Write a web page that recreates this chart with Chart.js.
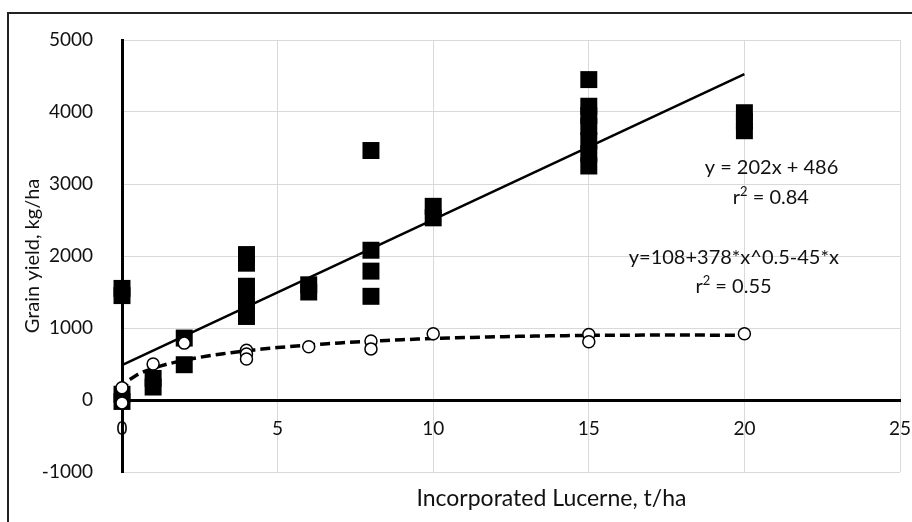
<!DOCTYPE html>
<html>
<head>
    <title>Grain yield and incorporated lucerne</title>
    <script src="https://cdn.jsdelivr.net/npm/chart.js"></script>
    <style>
        body { margin: 0; width: 912px; height: 522px; overflow: hidden; background: #fff; }
        .frame { position: absolute; left: 7px; top: 12px; width: 1000px; height: 1000px; border: 2px solid #222; pointer-events: none; }
        canvas { position: absolute; left: 0; top: 0; }
    </style>
</head>
<body>
    <div class="frame"></div>
    <canvas id="yieldChart" width="912" height="522"></canvas>

    <script>
        // Grain yield plots (filled squares)
        const squareRates = [0, 0, 0, 0, 1, 1, 2, 2, 4, 4, 4, 4, 4, 6, 6, 8, 8, 8, 8, 10, 10,
                             15, 15, 15, 15, 15, 15, 15, 20, 20, 20];
        const squareYields = [1550, 1450, 80, -20, 300, 180, 860, 490, 2020, 1900, 1580, 1370, 1160,
                              1600, 1500, 3465, 2080, 1790, 1440, 2690, 2530,
                              4450, 4080, 3950, 3800, 3600, 3420, 3250, 3990, 3870, 3740];

        // Grain yield plots (open circles)
        const circleRates = [0, 0, 1, 2, 4, 4, 4, 6, 8, 8, 10, 15, 15, 20];
        const circleYields = [170, -40, 500, 790, 690, 640, 570, 740, 820, 710, 920, 910, 810, 920];

        // Fitted trend lines, as printed next to the chart
        const linearFit = { slope: 202, intercept: 486 };
        const curveFit = { a: 108, b: 378, c: -45 };
        const fitRange = [0, 20];

        const xTicks = [0, 5, 10, 15, 20, 25];
        const yTicks = [-1000, 0, 1000, 2000, 3000, 4000, 5000];

        const xTitle = 'Incorporated Lucerne, t/ha';
        const yTitle = 'Grain yield, kg/ha';
        const labelLines = ['y = 202x + 486', 'r\u00b2 = 0.84', 'y=108+378*x^0.5-45*x', 'r\u00b2 = 0.55'];

        const toPoints = (xs, ys) => xs.map((x, i) => ({ x: x, y: ys[i] }));

        const linePoints = fitRange.map(x => ({ x: x, y: linearFit.slope * x + linearFit.intercept }));
        const curvePoints = [];
        for (let x = fitRange[0]; x <= fitRange[1]; x += 0.25) {
            curvePoints.push({ x: x, y: curveFit.a + curveFit.b * Math.sqrt(x) + curveFit.c * x });
        }

        const textColor = '#111';
        const family = 'Lato, sans-serif';

        // draws a line of text centred on (cx, cy); a '²' is set as a raised small 2
        function drawText(ctx, text, cx, cy, size) {
            const parts = text.split('\u00b2');
            const big = size + 'px ' + family;
            const small = Math.round(size * 0.65) + 'px ' + family;
            ctx.font = big;
            let total = parts.reduce((w, p) => w + ctx.measureText(p).width, 0);
            ctx.font = small;
            const supW = ctx.measureText('2').width;
            total += supW * (parts.length - 1);
            let x = cx - total / 2;
            parts.forEach((p, i) => {
                ctx.font = big;
                ctx.fillText(p, x, cy);
                x += ctx.measureText(p).width;
                if (i < parts.length - 1) {
                    ctx.font = small;
                    ctx.fillText('2', x, cy - size * 0.33);
                    x += supW;
                }
            });
        }

        // Equation text and the x axis caption, placed from the scales
        const chartText = {
            id: 'chartText',
            afterDatasetsDraw(chart) {
                const { ctx, chartArea, scales: { x, y } } = chart;
                const anchors = [[20.87, 3222], [20.85, 2806], [19.66, 1972], [19.65, 1569]];
                ctx.save();
                ctx.fillStyle = textColor;
                ctx.textAlign = 'left';
                ctx.textBaseline = 'middle';
                labelLines.forEach((t, i) => {
                    drawText(ctx, t, x.getPixelForValue(anchors[i][0]), y.getPixelForValue(anchors[i][1]), 20);
                });
                drawText(ctx, xTitle, x.getPixelForValue(13.8), chartArea.bottom + 27, 23);
                ctx.restore();
            }
        };

        const ctx = document.getElementById('yieldChart').getContext('2d');
        const chart = new Chart(ctx, {
            type: 'scatter',
            data: {
                datasets: [
                    {
                        label: 'Yield (squares)',
                        data: toPoints(squareRates, squareYields),
                        pointStyle: 'rect',
                        pointRadius: 12,
                        backgroundColor: '#000',
                        borderWidth: 0,
                        clip: false,
                        order: 3
                    },
                    {
                        label: 'Linear fit',
                        data: linePoints,
                        showLine: true,
                        pointRadius: 0,
                        borderColor: '#000',
                        borderWidth: 2.5,
                        order: 2
                    },
                    {
                        label: 'Curve fit',
                        data: curvePoints,
                        showLine: true,
                        pointRadius: 0,
                        borderColor: '#000',
                        borderWidth: 3.5,
                        borderDash: [10, 5],
                        clip: false,
                        order: 2
                    },
                    {
                        label: 'Yield (circles)',
                        data: toPoints(circleRates, circleYields),
                        pointStyle: 'circle',
                        pointRadius: 6,
                        backgroundColor: '#fff',
                        borderColor: '#000',
                        borderWidth: 1.5,
                        clip: false,
                        order: 1
                    }
                ]
            },
            options: {
                responsive: false,
                animation: false,
                layout: { padding: { top: 40, right: 10, left: 0, bottom: 0 } },
                plugins: {
                    legend: { display: false },
                    tooltip: { enabled: false }
                },
                scales: {
                    x: {
                        type: 'linear',
                        min: xTicks[0],
                        max: xTicks[xTicks.length - 1],
                        ticks: { display: false, stepSize: 5 },
                        grid: {
                            color: c => c.tick && c.tick.value === 0 ? 'rgba(0,0,0,0)' : '#d9d9d9',
                            drawTicks: false
                        },
                        border: { display: false },
                        afterFit: s => { s.height = 50; }
                    },
                    x0: {
                        type: 'linear',
                        position: { y: 0 },
                        min: xTicks[0],
                        max: xTicks[xTicks.length - 1],
                        afterBuildTicks: s => { s.ticks = xTicks.map(v => ({ value: v })); },
                        ticks: {
                            color: textColor,
                            font: { family: family, size: 19 },
                            padding: 17,
                            maxRotation: 0,
                            callback: v => String(v)
                        },
                        grid: { display: false, drawTicks: false },
                        border: { color: '#000', width: 3 },
                        // sits on the zero line, so it takes no room in the layout
                        afterFit: s => { s.height = 0; s.paddingLeft = 0; s.paddingRight = 0; }
                    },
                    y: {
                        min: yTicks[0],
                        max: yTicks[yTicks.length - 1],
                        afterBuildTicks: s => { s.ticks = yTicks.map(v => ({ value: v })); },
                        ticks: {
                            color: textColor,
                            font: { family: family, size: 19 },
                            padding: 29,
                            callback: v => String(v)
                        },
                        grid: {
                            color: c => c.tick && c.tick.value === 0 ? '#000' : '#d9d9d9',
                            drawTicks: false
                        },
                        border: { color: '#000', width: 3 },
                        title: {
                            display: true,
                            text: yTitle,
                            color: textColor,
                            font: { family: family, size: 20 },
                            padding: { top: 21, bottom: 0 }
                        },
                        afterFit: s => { s.width = 122; s.paddingTop = 0; s.paddingBottom = 0; }
                    }
                }
            },
            plugins: [chartText]
        });
    </script>
</body>
</html>
